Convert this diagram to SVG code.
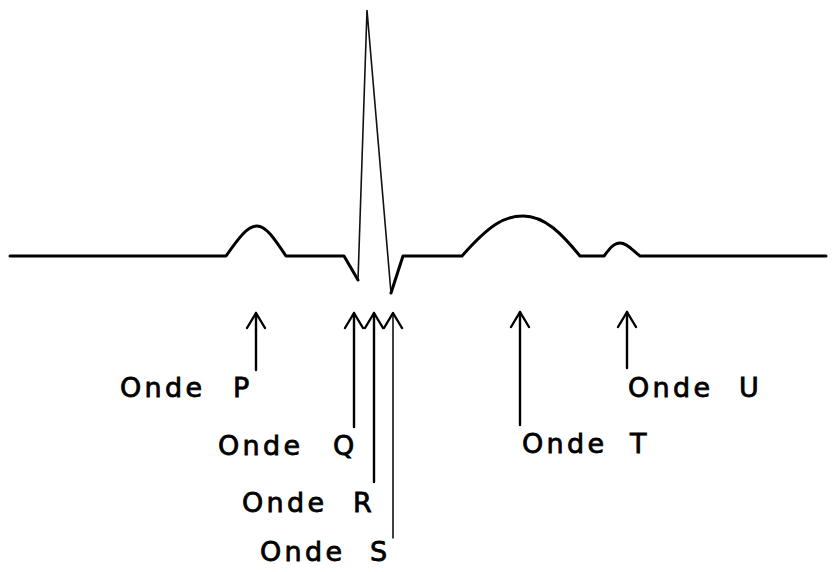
<svg xmlns="http://www.w3.org/2000/svg" width="834" height="572" viewBox="0 0 834 572">
<style>
.wave{fill:none;stroke:#000;stroke-width:3;stroke-linejoin:round;stroke-linecap:round}
.thin{fill:none;stroke:#111;stroke-width:1.6;stroke-linecap:round}
.arr{fill:none;stroke:#000;stroke-width:2.4;stroke-linecap:round}
.lbl{font-family:"DejaVu Sans","Liberation Sans",sans-serif;font-size:27px;letter-spacing:3.3px;fill:#000;stroke:#000;stroke-width:0.8}
</style>
<defs>
<marker id="head" markerUnits="userSpaceOnUse" markerWidth="40" markerHeight="40" viewBox="-20 -20 40 40" refX="0" refY="0" orient="auto" overflow="visible">
<path d="M-15,-9 L0,0 L-15,9" fill="none" stroke="#000" stroke-width="2.4" stroke-linecap="round" stroke-linejoin="round"/>
</marker>
</defs>
<rect width="834" height="572" fill="#fff"/>
<g id="waveform">
<path class="wave" d="M10,256 L226,256 C240,236 248,226 257,226 C266,226 274,238 286,256 L344,256 L358,280"/>
<path class="thin" d="M358,280 L367,10 L391,293"/>
<path class="wave" d="M391,293 L403,256 L462,256 C490,224 505,216 523,216 C545,216 562,234 580,256 L604,256 C610,248 614,243 620,243 C627,243 632,250 640,256 L826,256"/>
</g>
<g id="connectors">
<path class="arr" d="M256,370 L256,313" marker-end="url(#head)"/>
<path class="arr" d="M354,427 L354,313" marker-end="url(#head)"/>
<path class="arr" d="M374,482 L374,313" marker-end="url(#head)"/>
<path class="thin" d="M393,538 L393,313" marker-end="url(#head)"/>
<path class="arr" d="M520,425 L520,312" marker-end="url(#head)"/>
<path class="arr" d="M627,368 L627,312" marker-end="url(#head)"/>
</g>
<g id="onde-p"><text class="lbl" x="120" y="397">Onde <tspan x="233">P</tspan></text></g>
<g id="onde-q"><text class="lbl" x="218" y="455">Onde <tspan x="333">Q</tspan></text></g>
<g id="onde-r"><text class="lbl" x="242" y="512">Onde <tspan x="353">R</tspan></text></g>
<g id="onde-s"><text class="lbl" x="260" y="561">Onde <tspan x="370">S</tspan></text></g>
<g id="onde-t"><text class="lbl" x="522" y="453">Onde <tspan x="630">T</tspan></text></g>
<g id="onde-u"><text class="lbl" x="628" y="397">Onde <tspan x="739">U</tspan></text></g>
</svg>
